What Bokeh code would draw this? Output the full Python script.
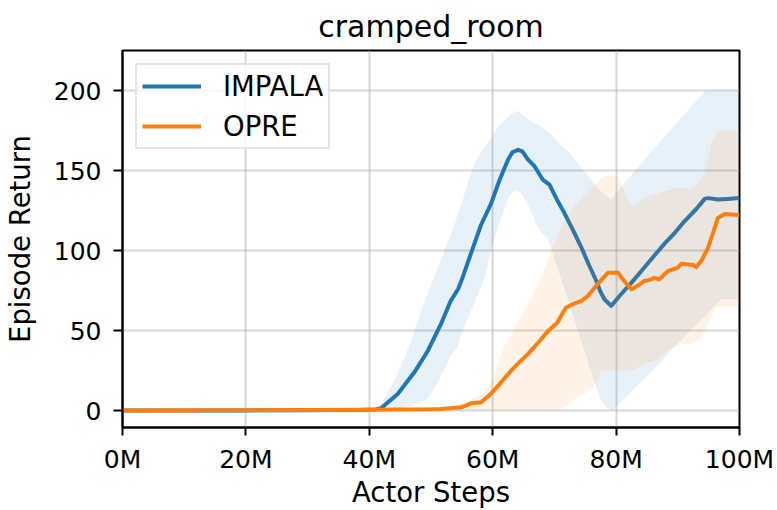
from bokeh.plotting import figure
from bokeh.models import Range1d, FixedTicker, Legend, LegendItem
from bokeh.embed import file_html
from bokeh.resources import INLINE

# ---- data (x in millions of actor steps) ----
impala_x = [0, 10, 20, 30, 38, 41, 41.9, 44.6, 47.3, 49.5, 51.6, 53.2, 54.4, 55.2, 56.0, 57.1, 58.1, 59.7,
            61.0, 62.5, 63.2, 64.1, 64.8, 65.7, 66.8, 68.1, 69.2, 70.4, 71.6, 73.0, 74.4, 75.6, 76.8, 77.5,
            78.1, 79.2, 80.8, 82.5, 84.1, 86.0, 88.0, 89.5, 91.0, 93.0, 94.4, 95.0, 96.5, 98.0, 100]
impala_y = [0, 0, 0.1, 0.2, 0.4, 0.7, 1.5, 10.4, 23.9, 37.4, 54, 68.6, 76, 84, 93, 105, 116, 129,
            143, 157, 161.5, 163, 162, 157, 152.6, 144.4, 141.2, 132, 123.6, 113, 101.7, 91, 81, 74,
            69.6, 65.4, 72.7, 80, 87.2, 96, 105, 111, 118, 126, 132.5, 132.8, 131.9, 132.3, 132.9]

impala_hi_x = [0, 20, 40, 41.3, 41.9, 44.6, 46.8, 48.4, 51.1, 53.2, 55.1, 56.0, 57.0, 58.3, 59.7, 61.0, 62.5,
               63.3, 64.1, 65.1, 66.5, 67.9, 69.5, 70.8, 72.2, 73.5, 74.9, 77.0, 79.2, 82.0, 85.0, 88.0,
               91.0, 94.4, 96.0, 100]
impala_hi_y = [0, 0.2, 0.5, 2, 3.7, 22.9, 43.6, 62.4, 89.3, 110, 131, 143, 153.7, 163, 170.3, 178, 183.8,
               186, 187.5, 183.8, 180, 177.6, 172.4, 167, 162, 156, 149.5, 139, 131.8, 145, 158.5, 172,
               185, 199.5, 200, 200]

impala_lo_x = [0, 20, 40, 45, 47.3, 49.5, 51.1, 52.2, 53.2, 54.3, 54.9, 56.5, 58.7, 59.7, 61.0, 62.5, 63.5,
               64.6, 66.0, 67.3, 69.0, 70.5, 72.0, 73.3, 75.4, 76.5, 77.6, 78.5, 79.5, 82.0, 85.0, 88.0,
               91.0, 94.0, 97.0, 100]
impala_lo_y = [0, 0.1, 0.3, 1.5, 3.7, 7.3, 17.7, 26, 34.3, 39.5, 47.8, 62.4, 83, 100, 116, 132.9, 137.5,
               136, 126.7, 114.2, 107, 89.3, 72, 56, 31, 18, 6.2, 2, 0, 10, 21.5, 33.5,
               46, 57.5, 69.6, 69.6]

opre_x = [0, 20, 40, 50, 51.6, 54.9, 56.5, 58.1, 59.7, 61.0, 63.0, 64.0, 65.7, 67.5, 69.0, 70.5, 71.2,
          71.9, 73.0, 74.4, 75.4, 77.0, 78.7, 80.3, 81.3, 82.5, 83.5, 84.6, 85.7, 86.2, 87.0, 88.4, 90.0,
          90.6, 92.5, 93.0, 93.8, 94.9, 95.8, 96.5, 97.6, 100]
opre_y = [0, 0.2, 0.5, 0.8, 1, 2, 4.5, 5.2, 10.4, 16, 25, 29, 35.3, 43, 49.8, 55, 60,
          64.4, 66.5, 68.5, 71.6, 79, 86.2, 86.2, 81, 75.8, 78, 81, 82, 83, 82, 87.2, 89.3,
          91.8, 91, 89.7, 93.5, 101.7, 112, 120.4, 122.9, 122.3]

opre_hi_x = [0, 40, 50, 55, 56.0, 57.0, 58.7, 60.5, 61.9, 65.1, 67.9, 69.5, 71.0, 72.2, 73.3, 75.4, 77.6,
             79.0, 80.3, 81.3, 82.5, 83.5, 85.2, 87.0, 89.5, 92.2, 93.3, 94.4, 95.5, 96.5, 98.0, 100]
opre_hi_y = [0, 0.5, 0.8, 2, 6.2, 8, 10.4, 25, 40, 62.4, 83, 100, 114, 122, 128, 137, 145.4,
             147.5, 146, 137, 127.7, 130, 134, 136, 139, 139, 142.2, 149.5, 168, 174.5, 175, 175]

opre_lo_x = [0, 40, 60, 70.5, 72.0, 73.3, 74.5, 76.0, 76.8, 77.6, 80.0, 82.5, 84.6, 86.8, 89.0, 90.6,
             92.2, 93.8, 94.9, 96.0, 98.0, 100]
opre_lo_y = [0, 0.2, 0.4, 0.6, 3, 7.3, 10, 12.5, 18, 25, 25, 25, 29, 32, 39.5, 41.5,
             41.5, 45.7, 54, 64.4, 64.8, 64.8]

x_ticks = [0, 20, 40, 60, 80, 100]
x_tick_labels = ["0M", "20M", "40M", "60M", "80M", "100M"]
y_ticks = [0, 50, 100, 150, 200]
series_names = ["IMPALA", "OPRE"]
colors = ["#1f77b4", "#ff7f0e"]
x_label = "Actor Steps"
y_label = "Episode Return"
title = "cramped_room"

FONT = "DejaVu Sans"

p = figure(width=777, height=510, output_backend="svg", toolbar_location=None,
           x_range=Range1d(0, 100), y_range=Range1d(-10.6, 225.1),
           title=title,
           min_border_left=122, min_border_right=38, min_border_top=49, min_border_bottom=83)

p.title.align = "center"
p.title.text_font = FONT
p.title.text_font_size = "30px"
p.title.text_font_style = "normal"
p.title.text_color = "black"
p.title.standoff = 13

def band(xh, yh, xl, yl, color):
    return p.patch(list(xh) + list(reversed(xl)), list(yh) + list(reversed(yl)),
                   fill_color=color, fill_alpha=0.1, line_color=None)

band(impala_hi_x, impala_hi_y, impala_lo_x, impala_lo_y, colors[0])
r1 = p.line(impala_x, impala_y, line_color=colors[0], line_width=4, line_join="round")
band(opre_hi_x, opre_hi_y, opre_lo_x, opre_lo_y, colors[1])
r2 = p.line(opre_x, opre_y, line_color=colors[1], line_width=4, line_join="round")

# axes
p.xaxis.ticker = FixedTicker(ticks=x_ticks)
p.xaxis.major_label_overrides = dict(zip(x_ticks, x_tick_labels))
p.yaxis.ticker = FixedTicker(ticks=y_ticks)
p.xaxis.axis_label = x_label
p.yaxis.axis_label = y_label
for ax in (p.xaxis, p.yaxis):
    ax.axis_label_text_font = FONT
    ax.axis_label_text_font_size = "27.5px"
    ax.axis_label_text_font_style = "normal"
    ax.axis_label_text_color = "black"
    ax.major_label_text_font = FONT
    ax.major_label_text_font_size = "25px"
    ax.major_label_text_color = "black"
    ax.axis_line_color = "black"
    ax.axis_line_width = 2
    ax.major_tick_line_color = "black"
    ax.major_tick_line_width = 2
    ax.major_tick_in = 0
    ax.minor_tick_line_color = None
p.xaxis.major_tick_out = 8
p.xaxis.major_label_standoff = 9
p.xaxis.axis_label_standoff = -1
p.yaxis.major_tick_out = 9
p.yaxis.major_label_standoff = 12
p.yaxis.axis_label_standoff = 15

p.grid.grid_line_color = "#b0b0b0"
p.grid.grid_line_alpha = 0.5
p.grid.grid_line_width = 2

p.outline_line_color = "black"
p.outline_line_width = 2
p.outline_line_alpha = 1.0

legend = Legend(items=[LegendItem(label=series_names[0], renderers=[r1]),
                       LegendItem(label=series_names[1], renderers=[r2])],
                location="top_left")
legend.margin = 13
legend.padding = 5
legend.spacing = 8
legend.glyph_width = 59
legend.glyph_height = 30
legend.label_height = 30
legend.label_standoff = 22
legend.label_text_font = FONT
legend.label_text_font_size = "27.5px"
legend.label_text_color = "black"
legend.border_line_color = "#cccccc"
legend.border_line_width = 2
legend.background_fill_color = "white"
legend.background_fill_alpha = 0.8
p.add_layout(legend, "center")

open("out.html", "w").write(file_html(p, INLINE))
